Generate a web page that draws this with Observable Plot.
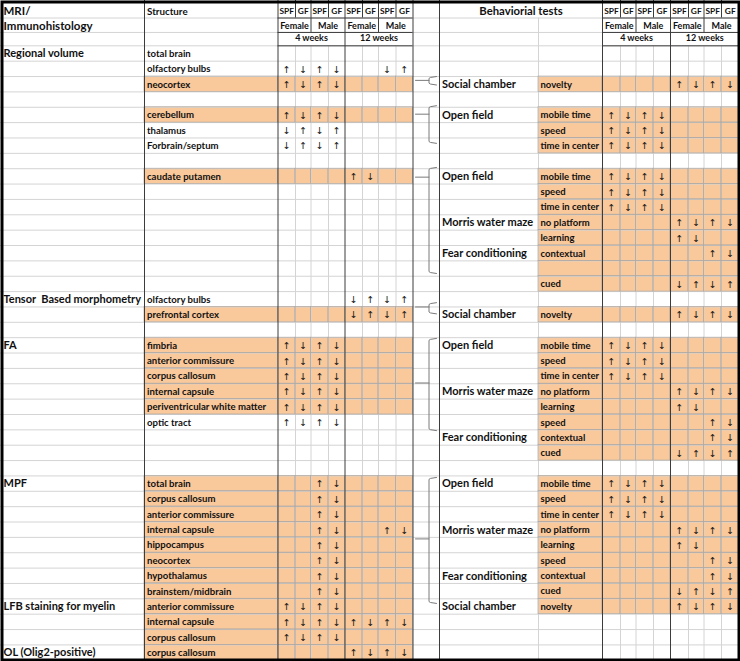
<!DOCTYPE html>
<html><head><meta charset="utf-8">
<script src="https://cdn.jsdelivr.net/npm/d3@7"></script>
<script src="https://cdn.jsdelivr.net/npm/@observablehq/plot@0.6"></script>
<style>html,body{margin:0;padding:0;background:#fff;overflow:hidden} svg{display:block}</style>
</head><body><div id="chart"></div>
<script>
// ---------- DATA ----------
const groupLabels = ["SPF","GF","SPF","GF","SPF","GF","SPF","GF"];
const sexLabels = ["Female","Male","Female","Male"];
const ageLabels = ["4 weeks","12 weeks"];

// left block: MRI / immunohistology
const categories = [
  ["Regional volume", 0], ["Tensor  Based morphometry", 16], ["FA", 19],
  ["MPF", 28], ["LFB staining for myelin", 36], ["OL (Olig2-positive)", 39]
];
const structures = [
  "total brain","olfactory bulbs","neocortex","","cerebellum","thalamus","Forbrain/septum","",
  "caudate putamen","","","","","","","",
  "olfactory bulbs","prefrontal cortex","",
  "fimbria","anterior commissure","corpus callosum","internal capsule","periventricular white matter","optic tract","","","",
  "total brain","corpus callosum","anterior commissure","internal capsule","hippocampus","neocortex","hypothalamus","brainstem/midbrain",
  "anterior commissure","internal capsule","corpus callosum","corpus callosum"
];
const structureShaded = [2,4,8,17,19,20,21,22,23,28,29,30,31,32,33,34,35,36,37,38,39];
// u = ↑, d = ↓, . = blank ; columns: 4wk F SPF, GF, M SPF, GF, 12wk F SPF, GF, M SPF, GF
const structureArrows = [
  [1,"udud..du"],[2,"udud...."],[4,"udud...."],[5,"dudu...."],[6,"dudu...."],
  [8,"....ud.."],[16,"....dudu"],[17,"....dudu"],
  [19,"udud...."],[20,"udud...."],[21,"udud...."],[22,"udud...."],[23,"udud...."],[24,"udud...."],
  [28,"..ud...."],[29,"..ud...."],[30,"..ud...."],[31,"..ud..ud"],[32,"..ud...."],[33,"..ud...."],[34,"..ud...."],[35,"..ud...."],
  [36,"udud...."],[37,"udududud"],[38,"udud...."],[39,"....udud"]
];

// right block: behavioral tests
const tests = [
  ["Social chamber",2],["Open field",4],["Open field",8],["Morris water maze",11],["Fear conditioning",13],
  ["Social chamber",17],["Open field",19],["Morris water maze",22],["Fear conditioning",25],
  ["Open field",28],["Morris water maze",31],["Fear conditioning",34],["Social chamber",36]
];
const subtests = [
  ["novelty",2],["mobile time",4],["speed",5],["time in center",6],
  ["mobile time",8],["speed",9],["time in center",10],["no platform",11],["learning",12],["contextual",13],["cued",15],
  ["novelty",17],
  ["mobile time",19],["speed",20],["time in center",21],["no platform",22],["learning",23],["speed",24],["contextual",25],["cued",26],
  ["mobile time",28],["speed",29],["time in center",30],["no platform",31],["learning",32],["speed",33],["contextual",34],["cued",35],["novelty",36]
];
const testShaded = [2,4,5,6,8,9,10,11,12,13,14,15,17,19,20,21,22,23,24,25,26,28,29,30,31,32,33,34,35,36];
const testArrows = [
  [2,"....udud"],[4,"udud...."],[5,"udud...."],[6,"udud...."],
  [8,"udud...."],[9,"udud...."],[10,"udud...."],[11,"....udud"],[12,"....ud.."],[13,"......ud"],[15,"....dudu"],
  [17,"....udud"],
  [19,"udud...."],[20,"udud...."],[21,"udud...."],[22,"....udud"],[23,"....ud.."],[24,"......ud"],[25,"......ud"],[26,"....dudu"],
  [28,"udud...."],[29,"udud...."],[30,"udud...."],[31,"....udud"],[32,"....ud.."],[33,"......ud"],[34,"......ud"],[35,"....dudu"],[36,"....udud"]
];
// braces linking MRI rows to behavioural rows: [top, bottom, tip] in row units
const brackets = [[2.0,2.55,2.25],[3.9,6.35,4.45],[7.92,14.82,8.55],[16.72,17.45,17.0],[19.05,25.05,21.95],[28.1,36.3,32.1]];

// ---------- LAYOUT ----------
const nRows = 40;
const hdr = [-2.95,-1.81,-0.87,0];
const xCat = 0, xStruct = 144, xValL = [277.5,295,310.5,328,344.5,362,378,395.5,412.5];
const xTest = 439, xSub = 538, xValR = [602,620,635.5,653,670,688,703.5,721,738.5];
const peach = "#f9c89b", dark = "#3c3c3c", light = "#d4d4d4", cellLine = "#b0aaa4";
const font = "Lato, 'Open Sans', sans-serif";
const arrowFont = "'DejaVu Sans', sans-serif";
const range = n => Array.from({length:n}, (_, i) => i);

function shadedCells(rows, labelEdges, valEdges) {
  const out = [];
  for (const r of rows) {
    out.push({x1: labelEdges[0], x2: labelEdges[1], r});
    for (let j = 0; j < 8; j++) out.push({x1: valEdges[j], x2: valEdges[j+1], r});
  }
  return out;
}
const cells = [
  ...shadedCells(structureShaded, [xStruct, xValL[0]], xValL),
  ...shadedCells(testShaded, [xSub, xValR[0]], xValR)
];
function arrows(list, edges) {
  const out = [];
  for (const [r, code] of list) for (let j = 0; j < 8; j++) {
    if (code[j] === "u" || code[j] === "d")
      out.push({x: (edges[j] + edges[j+1]) / 2, r, t: code[j] === "u" ? "↑" : "↓"});
  }
  return out;
}
const arrowData = [...arrows(structureArrows, xValL), ...arrows(testArrows, xValR)];

function headerTexts(edges) {
  const t = [];
  groupLabels.forEach((g, j) => t.push({x: (edges[j]+edges[j+1])/2, y: -2.22, t: g, s: 8.4}));
  sexLabels.forEach((g, j) => t.push({x: (edges[2*j]+edges[2*j+2])/2, y: -1.27, t: g, s: 9}));
  ageLabels.forEach((g, j) => t.push({x: (edges[4*j]+edges[4*j+4])/2, y: -0.5, t: g, s: 9}));
  return t;
}
const hTexts = [...headerTexts(xValL), ...headerTexts(xValR)];

const hGrid = [...hdr.slice(1), ...range(nRows - 1).map(i => i + 1)];
const darkV = [xStruct, xValL[0], xValL[4], xValL[8], xTest, xValR[0], xValR[4]];
const lightVdata = [...xValL.slice(1,8), ...xValR.slice(1,8)].filter(x => x !== xValL[4] && x !== xValR[4]);
const hdrSexV = [xValL[2], xValL[6], xValR[2], xValR[6]];
const hdrHLines = [];
for (const y of hdr.slice(1)) { hdrHLines.push({y, x1: xValL[0], x2: xValL[8]}); hdrHLines.push({y, x1: xValR[0], x2: xValR[8]}); }

const braceLines = [];
brackets.forEach(([top, bot, tip], k) => {
  const d = Math.min(0.12, (bot - top) / 4);
  [[436,top],[430,top+d*0.5],[428.5,top+d],[428.5,bot-d],[430,bot-d*0.5],[436,bot]].forEach(([x,y]) => braceLines.push({k: "b"+k, x, y}));
  [[415,tip],[428.5,tip]].forEach(([x,y]) => braceLines.push({k: "t"+k, x, y}));
});

const txt = (extra) => Object.assign({fontFamily: font, fontWeight: "bold", fill: "#111"}, extra);

const chart = Plot.plot({
  width: 740, height: 661, margin: 0,
  x: {domain: [0, 740], range: [0, 740], axis: null},
  y: {domain: [-2.95, 40.08], range: [0, 661], axis: null},
  style: {background: "#fff"},
  marks: [
    Plot.rect(cells, {x1: "x1", x2: "x2", y1: d => d.r, y2: d => d.r + 1, fill: peach}),
    Plot.ruleY(hGrid, {y: d => d, x1: 0, x2: 740, stroke: light, strokeWidth: 1}),
    Plot.ruleX(lightVdata, {x: d => d, y1: 0, y2: 40.08, stroke: light}),
    Plot.ruleX([xSub], {x: d => d, y1: hdr[1], y2: 40.08, stroke: light}),
    Plot.rect(cells, {x1: "x1", x2: "x2", y1: d => d.r, y2: d => d.r + 1, fill: "none", stroke: cellLine, strokeWidth: 0.7}),
    Plot.ruleX(lightVdata, {x: d => d, y1: hdr[0], y2: hdr[1], stroke: dark}),
    Plot.ruleX(hdrSexV, {x: d => d, y1: hdr[1], y2: hdr[2], stroke: dark}),
    Plot.ruleY(hdrHLines, {y: "y", x1: "x1", x2: "x2", stroke: dark}),
    Plot.ruleX(darkV, {x: d => d, y1: -2.95, y2: 40.08, stroke: dark}),
    Plot.line(braceLines, {x: "x", y: "y", z: "k", stroke: "#7a7a7a", strokeWidth: 1}),
    Plot.text(["MRI/", "Immunohistology"], txt({x: 3, y: (d, i) => [-2.22, -1.27][i], text: d => d, textAnchor: "start", fontSize: 11.5})),
    Plot.text(["Structure"], txt({x: xStruct + 2.5, y: -2.22, text: d => d, textAnchor: "start", fontSize: 9.8})),
    Plot.text(["Behaviorial tests"], txt({x: (xTest + xValR[0]) / 2, y: -2.22, text: d => d, fontSize: 11.3})),
    Plot.text(hTexts, txt({x: "x", y: "y", text: "t", fontSize: d => d.s})),
    Plot.text(categories, txt({x: xCat + 3, y: d => d[1] + 0.52, text: d => d[0], textAnchor: "start", fontSize: 11})),
    Plot.text(structures.map((s, r) => ({s, r})).filter(d => d.s), txt({x: xStruct + 2.5, y: d => d.r + 0.52, text: "s", textAnchor: "start", fontSize: 9.6})),
    Plot.text(tests, txt({x: xTest + 2.5, y: d => d[1] + 0.52, text: d => d[0], textAnchor: "start", fontSize: 11})),
    Plot.text(subtests, txt({x: xSub + 2, y: d => d[1] + 0.52, text: d => d[0], textAnchor: "start", fontSize: 9.5})),
    Plot.text(arrowData, {x: "x", y: d => d.r + 0.55, text: "t", fontFamily: arrowFont, fontSize: 9.5, fill: "#111"}),
    Plot.frame({stroke: "#000", strokeWidth: 3, inset: 1.5})
  ]
});
document.getElementById("chart").appendChild(chart);
</script>
</body></html>
